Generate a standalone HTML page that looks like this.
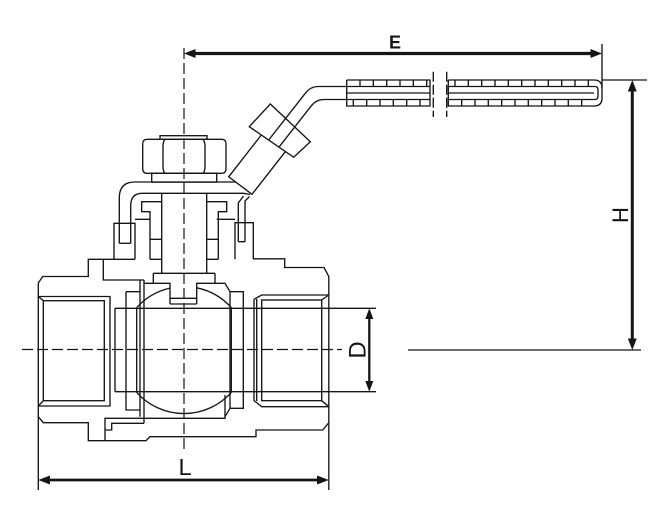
<!DOCTYPE html>
<html><head><meta charset="utf-8"><style>
html,body{margin:0;padding:0;background:#fff;}
svg{display:block;}
</style></head><body>
<svg xmlns="http://www.w3.org/2000/svg" width="664" height="513" viewBox="0 0 664 513">
<rect width="664" height="513" fill="#fff"/>
<g fill="none" stroke="#151515" stroke-width="1.35" stroke-linejoin="miter">
<!-- centerlines -->
<path d="M184,48 V452" stroke-dasharray="11 4" stroke-width="1.2"/>
<path d="M22,349.5 H342" stroke-dasharray="11 4" stroke-width="1.2"/>

<!-- body outline -->
<path d="M253.3,258.8 H284.7 V267.5 H324 L328.8,276.5 V422.7 L322.7,430 H256 V436.7 H150 L146,440.7 H88.3 V422.7 H43.3 L38.3,416.7 V283 L42.7,276.5 H88.3 V259.3 H135"/>
<path d="M114,259.3 V223.3 H135 V259.3 M135,219.3 H150 M150,259.3 H161.7 M103.3,259.3 V280 H144"/>
<path d="M253.3,259.3 V222.7 H235 V259.3 M216.7,219.3 H235 M206.7,259.3 H218.3"/>
<!-- extension lines L -->
<path d="M38.3,416.7 V490 M328.8,422.7 V490"/>

<!-- stem -->
<path d="M161.7,193.3 V273.3 M206.7,193.3 V273.3"/>
<!-- glands -->
<path d="M161.7,201.7 H141.7 V211.7 H150 V259.3 M150,239.3 H161.7"/>
<path d="M206.7,201.7 H226.7 V211.7 H218.3 V259.3 M206.7,239.3 H218.3"/>
<!-- tang -->
<path d="M153.3,273.3 H215 M153.3,273.3 V283.3 M215,273.3 V283.3 M144,283.3 H170 V304 M170,298.3 H196.7 M170,304 H196.7 M196.7,304 V283.3 H225 L230,291.7"/>

<!-- left seats -->
<path d="M140,280 V416.7 M144,280 V423.3 M126,291.7 H140 M126,291.7 V410 H140"/>
<path d="M105,440.7 V418.3 H225 V395 M105,430 H111.7 V423.3 H144"/>
<!-- right seat -->
<path d="M230,291.7 V408.3 H243.3 V291.7 H230 M230,408.3 L225,416.7"/>

<!-- port / D extension lines -->
<path d="M115,308.3 V391.7 M115,308.3 H376 M115,391.7 H376"/>
<!-- ball -->
<path d="M136.7,307.6 V392.4 M231.3,307.6 V392.4"/>
<path d="M136.7,307.6 A63.5,63.5 0 0 1 170,288.1"/>
<path d="M196.7,287.8 A63.5,63.5 0 0 1 231.3,307.6"/>
<path d="M136.7,392.4 A63.5,63.5 0 0 0 231.3,392.4"/>

<!-- left thread -->
<path d="M38.3,296.5 H110 V406 H38.3"/>
<rect x="43.3" y="300.7" width="61" height="100"/>
<path d="M38.3,296.5 L43.3,300.7 M38.3,406 L43.3,400.7"/>
<!-- right thread -->
<path d="M254,299.3 L261.7,295 H328.8 M254,299.3 V400.5 L261.7,406.7 H328.8 M256.7,299 V401"/>
<rect x="261.7" y="300" width="60" height="100.7"/>
<path d="M321.7,300 L328.8,295 M321.7,400.7 L328.8,406.7"/>

<!-- hex nut -->
<rect x="160" y="135.7" width="47" height="3.6"/>
<path d="M147,139.3 H222 Q226,139.3 226,144 V168.5 Q226,173.3 222,173.3 H147 Q142.7,173.3 142.7,168.5 V144 Q142.7,139.3 147,139.3 Z"/>
<path d="M165,139.3 Q163,142 163,146 V167 Q163,171 165,173.3 M203,139.3 Q205,142 205,146 V167 Q205,171 203,173.3"/>
<rect x="151.7" y="173.3" width="65" height="8.8"/>

<!-- stop bracket -->
<path d="M119.3,243.3 V198 Q119.3,182 135,182 H235.6"/>
<path d="M130.7,243.3 V206 Q130.7,193.3 142,193.3 H244 L250,194.5"/>
<path d="M119.3,243.3 H130.7"/>
<path d="M238.3,241.7 V203 L243.5,196 M245,241.7 V201 L249.5,196.5 M238.3,241.7 H245"/>

<!-- handle sleeve -->
<path d="M261.3,135 L228.7,176.8 L252,194.3 L285.3,151.7"/>
<!-- handle nut -->
<polygon points="249.3,126.7 270.3,104 310.3,141.7 293.7,157.3"/>
<!-- rails -->
<path d="M268.7,140 L305.3,93.3 Q310.6,86.5 318,86.5 H430"/>
<path d="M279.3,146.7 L311.3,105.8 Q316.2,99.5 324,99.5 H430"/>
<!-- grip left segment -->
<path d="M346.7,80 H430 V106 H346.7 V80 M346.7,93 H430"/>
<path d="M360,80 V86.5 M373.3,80 V86.5 M386.7,80 V86.5 M400,80 V86.5 M413.3,80 V86.5 M426.7,80 V86.5"/>
<path d="M353.3,99.5 V106 M366.7,99.5 V106 M380,99.5 V106 M393.3,99.5 V106 M406.7,99.5 V106 M420,99.5 V106"/>
<!-- break lines -->
<path d="M433.3,71.7 V117 M446.7,71.7 V117" stroke-dasharray="10 3"/>
<!-- grip right segment -->
<path d="M448.3,80 H594 Q602,80 602,88 V98 Q602,106 594,106 H448.3 V80"/>
<path d="M448.3,86.5 H595 Q598,86.5 598,90 V96 Q598,99.5 595,99.5 H448.3 M448.3,93 H594"/>
<path d="M455,80 V86.5 M468.3,80 V86.5 M481.7,80 V86.5 M495,80 V86.5 M508.3,80 V86.5 M521.7,80 V86.5 M535,80 V86.5 M548.3,80 V86.5 M561.7,80 V86.5 M575,80 V86.5 M588.3,80 V86.5"/>
<path d="M461.7,99.5 V106 M475,99.5 V106 M488.3,99.5 V106 M501.7,99.5 V106 M515,99.5 V106 M528.3,99.5 V106 M541.7,99.5 V106 M555,99.5 V106 M568.3,99.5 V106 M581.7,99.5 V106"/>

<!-- E extension & H extensions -->
<path d="M602,44 V88"/>
<path d="M602,80 H647"/>
<path d="M408,350 H641"/>
</g>

<!-- dimension lines -->
<g stroke="#151515" fill="none">
<path d="M192,53.5 H594" stroke-width="3.2"/>
<path d="M632.3,88 V342" stroke-width="3"/>
<path d="M46,480 H321" stroke-width="2.7"/>
<path d="M369.3,316 V384" stroke-width="2.3"/>
</g>
<g fill="#151515" stroke="none">
<polygon points="184,53.5 195.5,49 195.5,58"/>
<polygon points="602,53.5 590.5,49 590.5,58"/>
<polygon points="632.3,80 627.8,91.5 636.8,91.5"/>
<polygon points="632.3,350 627.8,338.5 636.8,338.5"/>
<polygon points="38.3,480 50,475.5 50,484.5"/>
<polygon points="328.8,480 317,475.5 317,484.5"/>
<polygon points="369.3,308.3 365.3,319 373.3,319"/>
<polygon points="369.3,391.7 365.3,381 373.3,381"/>
</g>

<!-- labels -->
<g fill="#151515" font-family="'Liberation Sans', Arial, sans-serif">
<text x="395" y="48.5" font-size="18" font-weight="bold" text-anchor="middle">E</text>
<text x="185" y="475" font-size="23.5" text-anchor="middle">L</text>
<text transform="translate(365.5,350) rotate(-90)" font-size="24" text-anchor="middle">D</text>
<text transform="translate(628,215) rotate(-90)" font-size="22" text-anchor="middle">H</text>
</g>
</svg>
</body></html>
